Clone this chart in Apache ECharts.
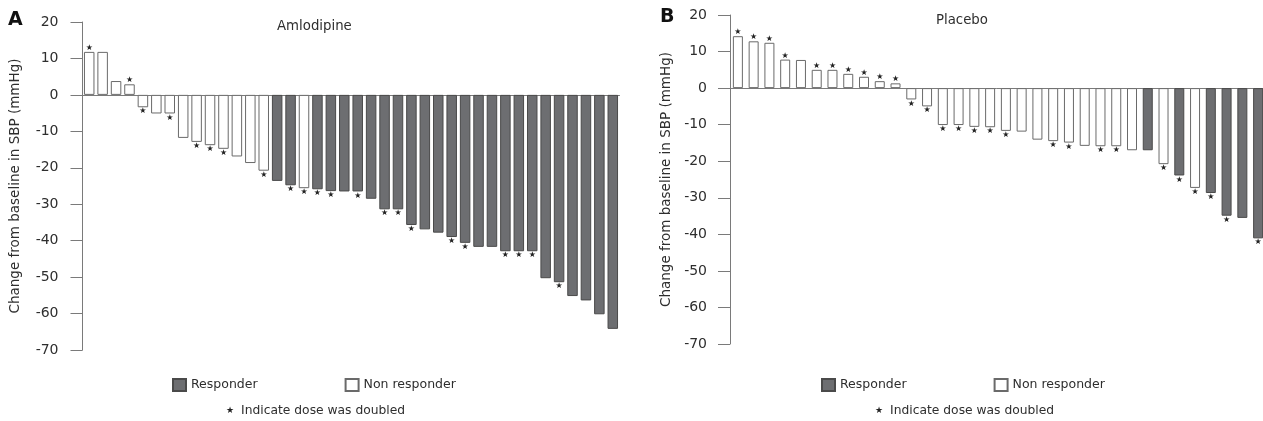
<!DOCTYPE html>
<html>
<head>
<meta charset="utf-8">
<script src="https://cdn.jsdelivr.net/npm/echarts@6/dist/echarts.min.js"></script>
<style>
  html, body { margin: 0; padding: 0; background: #fff; }
  #main { width: 1263px; height: 421px; }
</style>
</head>
<body>
<div id="main"></div>
<script>
// A: Amlodipine, change from baseline in SBP (mmHg), one bar per patient
var amloValues = [11.8, 11.8, 3.8, 2.9, -3.4, -5.1, -5.1, -11.8, -12.9, -13.8, -14.8, -16.9, -18.7, -20.8,
  -23.6, -24.8, -25.6, -25.9, -26.4, -26.5, -26.5, -28.5, -31.4, -31.4, -35.7, -36.9, -37.8, -39.0,
  -40.6, -41.7, -41.7, -42.9, -42.9, -42.9, -50.3, -51.4, -55.2, -56.4, -60.2, -64.2];
var amloResponder = [0, 0, 0, 0, 0, 0, 0, 0, 0, 0, 0, 0, 0, 0, 1, 1, 0, 1, 1, 1, 1, 1, 1, 1, 1, 1, 1, 1, 1, 1,
  1, 1, 1, 1, 1, 1, 1, 1, 1, 1];
var amloDoubled = [1, 0, 0, 1, 1, 0, 1, 0, 1, 1, 1, 0, 0, 1, 0, 1, 1, 1, 1, 0, 1, 0, 1, 1, 1, 0, 0, 1, 1, 0,
  0, 1, 1, 1, 0, 1, 0, 0, 0, 0];

// B: Placebo
var placeboValues = [14.2, 12.8, 12.4, 7.8, 7.7, 5.0, 5.0, 3.9, 3.1, 1.9, 1.3, -3.1, -5.0, -10.1, -10.1,
  -10.6, -10.7, -11.7, -11.9, -14.1, -14.5, -14.9, -15.8, -15.9, -15.9, -17.0, -17.0, -20.8, -23.9,
  -27.3, -28.7, -34.9, -35.5, -41.1];
var placeboResponder = [0, 0, 0, 0, 0, 0, 0, 0, 0, 0, 0, 0, 0, 0, 0, 0, 0, 0, 0, 0, 0, 0, 0, 0, 0, 0, 1, 0,
  1, 0, 1, 1, 1, 1];
var placeboDoubled = [1, 1, 1, 1, 0, 1, 1, 1, 1, 1, 1, 1, 1, 1, 1, 1, 1, 1, 0, 0, 1, 1, 0, 1, 1, 0, 0, 1, 1,
  1, 1, 1, 0, 1];

var yTicksMin = -70;
var yTicksMax = 20;
var yTickStep = 10;

var FONT = '"DejaVu Sans", Arial, sans-serif';
var TEXT = '#2e2e2e';
var AXIS = '#7a7a7a';
var DARK = '#6d6e71';

var chart = echarts.init(document.getElementById('main'));

function makeData(values, resp, doubled, want) {
  return values.map(function (v, i) {
    if (resp[i] !== want) return '-';
    return {
      value: v,
      label: { show: !!doubled[i], position: v < 0 ? 'bottom' : 'top' }
    };
  });
}

function makeSeries(values, resp, doubled, idx, width) {
  var label = { formatter: '\u2605', fontSize: 8, color: '#222', distance: 0, fontFamily: FONT };
  return [
    {
      name: 'Responder', type: 'bar', xAxisIndex: idx, yAxisIndex: idx,
      barWidth: width, barGap: '-100%',
      itemStyle: { color: DARK, borderColor: '#4a4a4a', borderWidth: 1 },
      label: label,
      data: makeData(values, resp, doubled, 1)
    },
    {
      name: 'Non responder', type: 'bar', xAxisIndex: idx, yAxisIndex: idx,
      barWidth: width, barGap: '-100%',
      itemStyle: { color: '#fff', borderColor: '#6a6a6a', borderWidth: 1 },
      label: label,
      data: makeData(values, resp, doubled, 0)
    }
  ];
}

function makeX(values, idx) {
  return {
    type: 'category', gridIndex: idx,
    data: values.map(function (v, i) { return String(i + 1); }),
    axisLine: { onZero: true, lineStyle: { color: AXIS, width: 1 } },
    axisTick: { show: false },
    axisLabel: { show: false },
    splitLine: { show: false }
  };
}

function makeY(idx, gap, margin) {
  return {
    type: 'value', gridIndex: idx,
    min: yTicksMin, max: yTicksMax, interval: yTickStep,
    name: 'Change from baseline in SBP (mmHg)',
    nameLocation: 'middle', nameRotate: 90, nameGap: gap,
    nameTextStyle: { fontSize: 13.5, color: TEXT, fontFamily: FONT },
    axisLine: { show: true, lineStyle: { color: AXIS, width: 1 } },
    axisTick: { show: true, inside: false, length: 12, lineStyle: { color: AXIS } },
    axisLabel: { margin: margin, fontSize: 14, color: TEXT, fontFamily: FONT },
    splitLine: { show: false }
  };
}

function noteTitle(left) {
  return {
    text: '{s|\u2605}{t|Indicate dose was doubled}', left: left, top: 405, padding: 0,
    textStyle: {
      fontWeight: 'normal',
      rich: {
        s: { fontSize: 9, color: '#222', fontFamily: FONT, fontWeight: 'normal', padding: [0, 7, 0, 0] },
        t: { fontSize: 12.3, color: TEXT, fontFamily: FONT, fontWeight: 'normal' }
      }
    }
  };
}

var legendBase = {
  orient: 'horizontal', padding: 0, top: 378,
  itemWidth: 13, itemHeight: 12, itemGap: 87,
  icon: 'rect',
  selectedMode: false,
  textStyle: { fontSize: 12.5, color: TEXT, fontFamily: FONT },
  data: ['Responder', 'Non responder']
};

option = {
  animation: false,
  backgroundColor: '#fff',
  textStyle: { fontFamily: FONT },
  title: [
    { text: 'A', left: 8, top: 11, padding: 0, textStyle: { fontSize: 19, fontWeight: 'bold', color: '#111', fontFamily: FONT } },
    { text: 'Amlodipine', left: 277, top: 20, padding: 0, textStyle: { fontSize: 13.3, fontWeight: 'normal', color: TEXT, fontFamily: FONT } },
    { text: 'B', left: 660, top: 8, padding: 0, textStyle: { fontSize: 19, fontWeight: 'bold', color: '#111', fontFamily: FONT } },
    { text: 'Placebo', left: 936, top: 14, padding: 0, textStyle: { fontSize: 13.3, fontWeight: 'normal', color: TEXT, fontFamily: FONT } },
    noteTitle(226),
    noteTitle(875)
  ],
  legend: [
    Object.assign({}, legendBase, { left: 172 }),
    Object.assign({}, legendBase, { left: 821 })
  ],
  grid: [
    { left: 82.5, top: 22, width: 537, height: 328, outerBoundsMode: 'none' },
    { left: 730, top: 15, width: 536, height: 329, outerBoundsMode: 'none' }
  ],
  xAxis: [makeX(amloValues, 0), makeX(placeboValues, 1)],
  yAxis: [makeY(0, 60, 24), makeY(1, 57, 23)],
  series: makeSeries(amloValues, amloResponder, amloDoubled, 0, 10.5)
    .concat(makeSeries(placeboValues, placeboResponder, placeboDoubled, 1, 10))
};

option && chart.setOption(option);

window.addEventListener('resize', function () {
  chart.resize();
});
</script>
</body>
</html>
